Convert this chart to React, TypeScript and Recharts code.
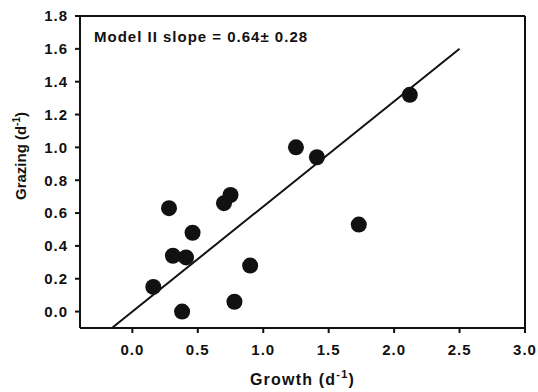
import { ScatterChart, Scatter, XAxis, YAxis, ReferenceLine } from "recharts";

const growth = [2.12, 1.41, 1.25, 1.73, 0.28, 0.7, 0.75, 0.46, 0.31, 0.41, 0.16, 0.38, 0.78, 0.9];
const grazing = [1.32, 0.94, 1.0, 0.53, 0.63, 0.66, 0.71, 0.48, 0.34, 0.33, 0.15, 0.0, 0.06, 0.28];

// model II fit, drawn from its two ends
const fitX = [-0.156, 2.5];
const fitY = [-0.1, 1.6];

const xTicks = [0, 0.5, 1, 1.5, 2, 2.5, 3];
const yTicks = [0, 0.2, 0.4, 0.6, 0.8, 1.0, 1.2, 1.4, 1.6, 1.8];
const xDomain = [-0.4, 3];
const yDomain = [-0.1, 1.8];

const slopeText = "Model II slope = 0.64\u00b1 0.28";

const FONT = "'Liberation Sans', Arial, sans-serif";
const INK = "#111";

const points = growth.map((x, i) => ({ x, y: grazing[i] }));

const Dot = (p: any) => <circle cx={p.cx} cy={p.cy} r={8} fill={INK} />;

const XTitle = (props: any) => {
  const vb = props.viewBox;
  return (
    <text x={vb.x + vb.width / 2} y={vb.y + 57} textAnchor="middle" fontFamily={FONT}
          fontWeight="bold" fontSize={16} letterSpacing={1.2} fill={INK}>
      Growth (d<tspan fontSize={11} dy={-7}>-1</tspan><tspan dy={7}>)</tspan>
    </text>
  );
};

const YTitle = (props: any) => {
  const vb = props.viewBox;
  const cx = vb.x + 26;
  const cy = vb.y + vb.height / 2 - 16;
  return (
    <text x={cx} y={cy} transform={`rotate(-90 ${cx} ${cy})`} textAnchor="middle" fontFamily={FONT}
          fontWeight="bold" fontSize={15} fill={INK}>
      Grazing (d<tspan fontSize={10} dy={-6}>-1</tspan><tspan dy={6}>)</tspan>
    </text>
  );
};

const tickStyle = { fontFamily: FONT, fontWeight: "bold", fontSize: 15, fill: INK, letterSpacing: 1 };

export default function App() {
  return (
    <div style={{ position: "absolute", left: 0, top: 0, background: "#fff" }}>
      <ScatterChart width={538} height={392} margin={{ top: 16, right: 13, left: 0, bottom: 0 }}>
        <XAxis type="number" dataKey="x" domain={xDomain} ticks={xTicks} allowDataOverflow
               tickFormatter={(v: number) => v.toFixed(1)} height={64}
               axisLine={{ stroke: INK, strokeWidth: 2 }} tickLine={{ stroke: INK, strokeWidth: 2 }}
               tickSize={5} tickMargin={11} tick={tickStyle} label={{ content: XTitle }} />
        <YAxis type="number" dataKey="y" domain={yDomain} ticks={yTicks} allowDataOverflow
               tickFormatter={(v: number) => v.toFixed(1)} width={80}
               axisLine={{ stroke: INK, strokeWidth: 2 }} tickLine={{ stroke: INK, strokeWidth: 2 }}
               tickSize={5} tickMargin={7} tick={tickStyle} label={{ content: YTitle }} />
        <ReferenceLine y={yDomain[1]} stroke={INK} strokeWidth={2} ifOverflow="visible" />
        <ReferenceLine x={xDomain[1]} stroke={INK} strokeWidth={2} ifOverflow="visible" />
        <ReferenceLine segment={[{ x: fitX[0], y: fitY[0] }, { x: fitX[1], y: fitY[1] }]}
                       stroke={INK} strokeWidth={2} ifOverflow="visible" />
        <Scatter data={points} shape={Dot} isAnimationActive={false} />
        <text x={94} y={42} fontFamily={FONT} fontWeight="bold" fontSize={15} letterSpacing={1} fill={INK}>
          {slopeText}
        </text>
      </ScatterChart>
    </div>
  );
}
